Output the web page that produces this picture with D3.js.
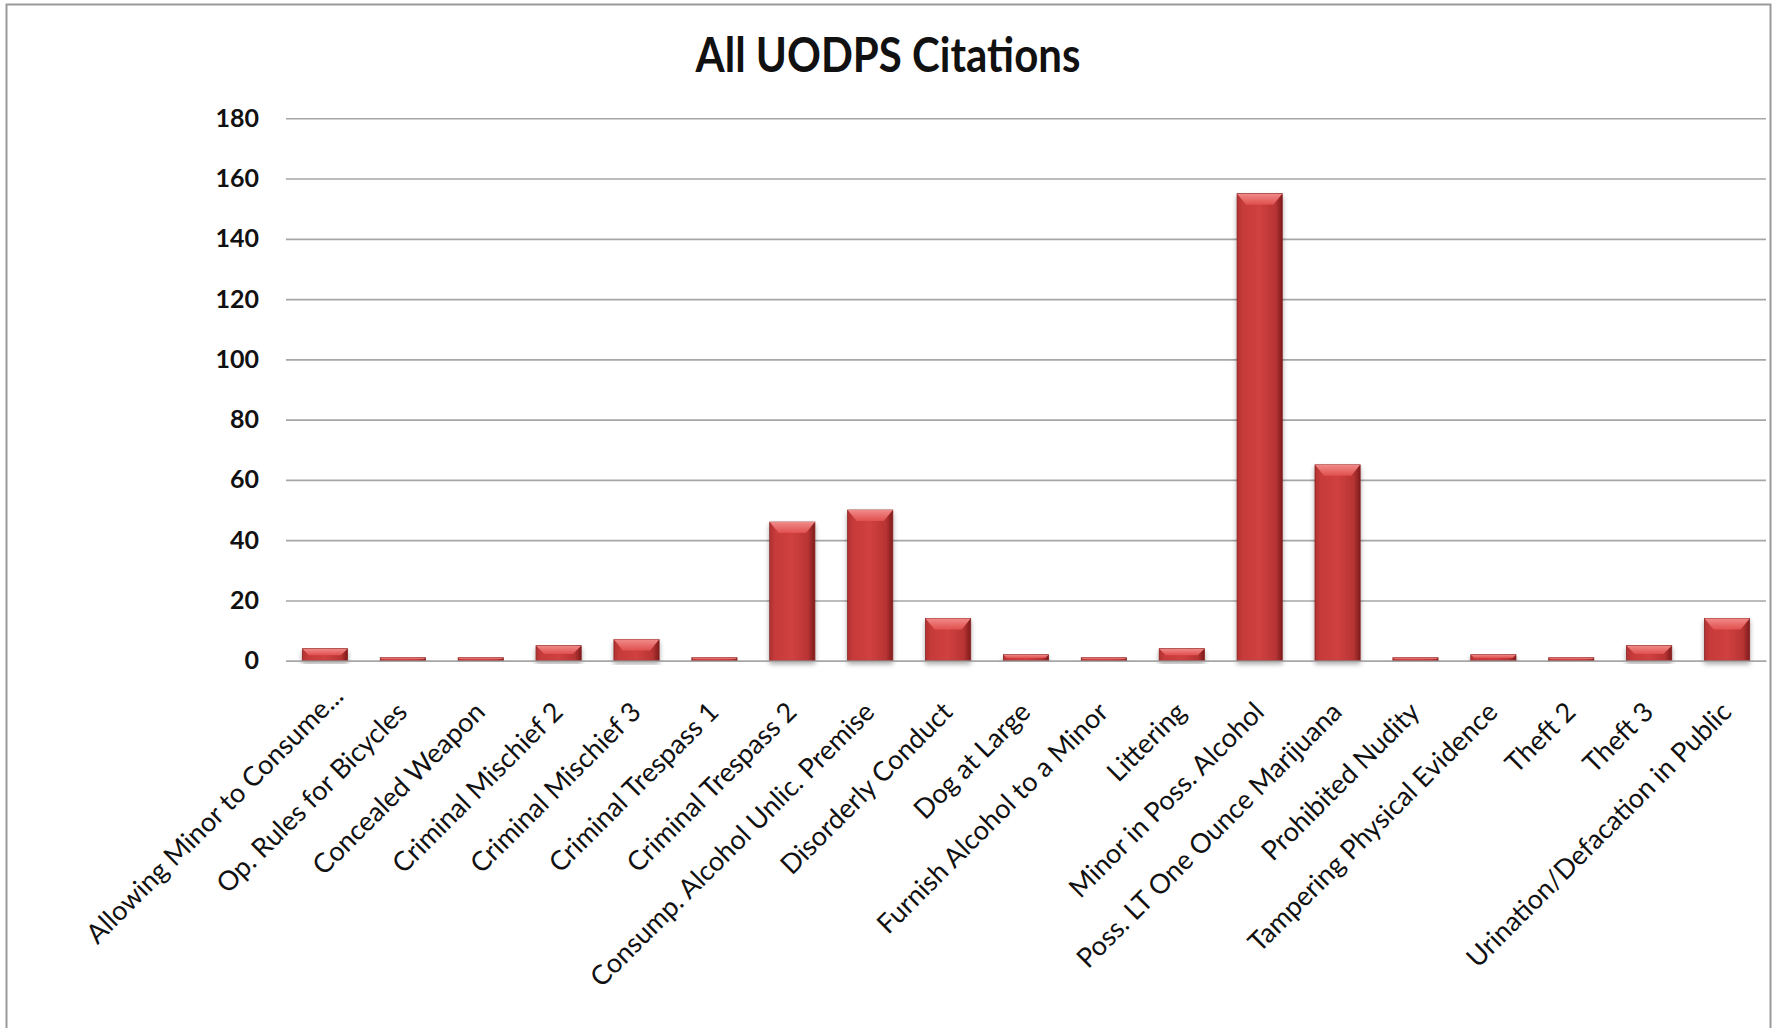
<!DOCTYPE html>
<html>
<head>
<meta charset="utf-8">
<script src="https://cdn.jsdelivr.net/npm/d3@7/dist/d3.min.js"></script>
<style>
  html, body { margin: 0; padding: 0; background: #fff; }
  svg { display: block; }
</style>
</head>
<body>
<svg id="chart" width="1777" height="1028"></svg>
<script>
const categories = [
  "Allowing Minor to Consume...",
  "Op. Rules for Bicycles",
  "Concealed Weapon",
  "Criminal Mischief 2",
  "Criminal Mischief 3",
  "Criminal Trespass 1",
  "Criminal Trespass 2",
  "Consump. Alcohol Unlic. Premise",
  "Disorderly Conduct",
  "Dog at Large",
  "Furnish Alcohol to a Minor",
  "Littering",
  "Minor in Poss. Alcohol",
  "Poss. LT One Ounce Marijuana",
  "Prohibited Nudity",
  "Tampering Physical Evidence",
  "Theft 2",
  "Theft 3",
  "Urination/Defacation in Public"
];
const citations = [4, 1, 1, 5, 7, 1, 46, 50, 14, 2, 1, 4, 155, 65, 1, 2, 1, 5, 14];
const yTicks = [0, 20, 40, 60, 80, 100, 120, 140, 160, 180];
const titleText = "All UODPS Citations";

const svg = d3.select("#chart");
const W = 1777, H = 1028;
const margin = { left: 286, right: 11, top: 118.3, bottom: 367.3 };
const plotW = W - margin.left - margin.right;
const y0 = H - margin.bottom;

// outer border
svg.append("rect")
  .attr("x", 6.5).attr("y", 4.5)
  .attr("width", W - 13).attr("height", H + 20)
  .attr("fill", "#fff").attr("stroke", "#9a9a9a").attr("stroke-width", 2);

const defs = svg.append("defs");
const g1 = defs.append("linearGradient").attr("id", "barGrad").attr("x1", "0").attr("x2", "1").attr("y1", "0").attr("y2", "0");
g1.append("stop").attr("offset", "0%").attr("stop-color", "#b23232");
g1.append("stop").attr("offset", "12%").attr("stop-color", "#c63a3a");
g1.append("stop").attr("offset", "50%").attr("stop-color", "#d04040");
g1.append("stop").attr("offset", "85%").attr("stop-color", "#b83434");
g1.append("stop").attr("offset", "100%").attr("stop-color", "#7e1c1c");
const g2 = defs.append("linearGradient").attr("id", "bevelGrad").attr("x1", "0").attr("x2", "0").attr("y1", "0").attr("y2", "1");
g2.append("stop").attr("offset", "0%").attr("stop-color", "#f08a88");
g2.append("stop").attr("offset", "100%").attr("stop-color", "#e0504f");
const f = defs.append("filter").attr("id", "shadow").attr("x", "-20%").attr("y", "-20%").attr("width", "140%").attr("height", "140%");
f.append("feGaussianBlur").attr("in", "SourceAlpha").attr("stdDeviation", 2.5).attr("result", "b");
f.append("feOffset").attr("in", "b").attr("dx", 0).attr("dy", 3).attr("result", "o");
f.append("feComponentTransfer").attr("in", "o").attr("result", "o2")
  .append("feFuncA").attr("type", "linear").attr("slope", 0.35);
const fm = f.append("feMerge");
fm.append("feMergeNode").attr("in", "o2");
fm.append("feMergeNode").attr("in", "SourceGraphic");

const x = d3.scaleBand().domain(categories).range([margin.left, margin.left + plotW]).paddingInner(0.42).paddingOuter(0.21);
const y = d3.scaleLinear().domain([0, 180]).range([y0, margin.top]);

// gridlines
const yAxis = d3.axisLeft(y).tickValues(yTicks).tickSize(-plotW).tickPadding(27);
const ga = svg.append("g").attr("transform", `translate(${margin.left},0)`).call(yAxis);
ga.select(".domain").remove();
ga.selectAll(".tick line").attr("stroke", "#a6a6a6").attr("stroke-width", 1.6);
ga.selectAll(".tick text")
  .attr("font-family", "Lato, 'Open Sans', sans-serif")
  .attr("font-weight", "bold")
  .attr("font-size", "25px")
  .attr("fill", "#111");

// bars
const bars = svg.append("g").selectAll("g.bar").data(categories.map((c, i) => ({ c, v: citations[i] })))
  .join("g").attr("class", "bar").attr("filter", "url(#shadow)");
bars.append("rect")
  .attr("x", d => x(d.c))
  .attr("y", d => y(d.v))
  .attr("width", x.bandwidth())
  .attr("height", d => y0 - y(d.v))
  .attr("fill", "url(#barGrad)")
  .attr("stroke", "#8a2222").attr("stroke-width", 0.8);
bars.append("path")
  .attr("d", d => {
    const bx = x(d.c), bw = x.bandwidth(), top = y(d.v);
    const h = Math.min(11, (y0 - top) * 0.55);
    const ins = Math.min(h, 9);
    return `M${bx},${top}L${bx + bw},${top}L${bx + bw - ins},${top + h}L${bx + ins},${top + h}Z`;
  })
  .attr("fill", "url(#bevelGrad)");

// x labels
const xAxis = d3.axisBottom(x).tickSize(0).tickPadding(0);
const gx = svg.append("g").attr("transform", `translate(0,${y0})`).call(xAxis);
gx.select(".domain").attr("stroke", "#a6a6a6").attr("stroke-width", 1.6);
gx.selectAll(".tick text")
  .attr("font-family", "Lato, 'Open Sans', sans-serif")
  .attr("font-size", "27px")
  .attr("fill", "#111")
  .attr("text-anchor", "end")
  .attr("y", 0)
  .attr("dy", "0")
  .attr("transform", d => d.endsWith("...") ? "translate(20,37) rotate(-45)" : "translate(6,53) rotate(-45)");

// title
svg.append("text")
  .attr("transform", "translate(888,72) scale(1,1.12)")
  .attr("text-anchor", "middle")
  .attr("font-family", "Lato, 'Open Sans', sans-serif")
  .attr("font-weight", "bold")
  .attr("font-size", "42px")
  .attr("fill", "#111")
  .text(titleText);
</script>
</body>
</html>
